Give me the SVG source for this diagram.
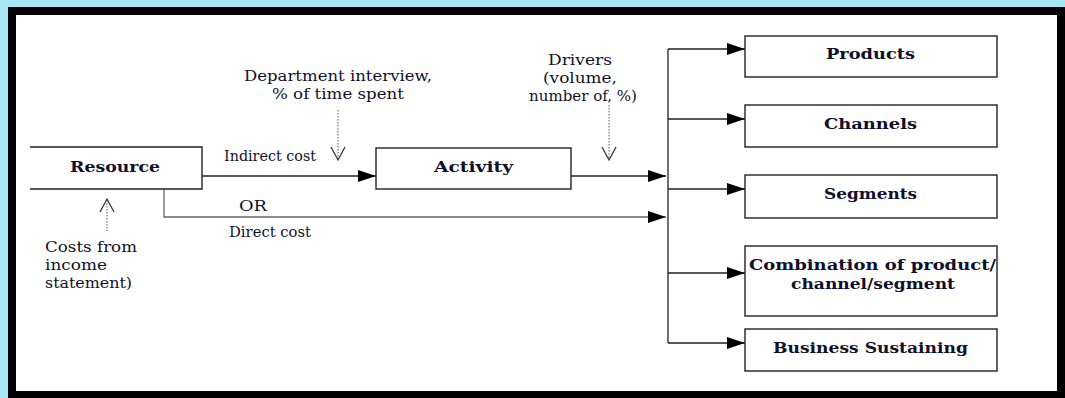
<svg xmlns="http://www.w3.org/2000/svg" width="1065" height="398" viewBox="0 0 1065 398">
  <style>
    .frame { fill: #ffffff; stroke: #000000; stroke-width: 8; }
    .box { fill: #ffffff; stroke: #222222; stroke-width: 1.4; }
    .line { fill: none; stroke: #222222; stroke-width: 1.3; }
    .gray { fill: none; stroke: #666666; stroke-width: 1.3; }
    .dot { fill: none; stroke: #777777; stroke-width: 1.2; stroke-dasharray: 1.5 1.5; }
    .vhead { fill: none; stroke: #333333; stroke-width: 1.3; }
    .title { font-family: "DejaVu Serif", "Liberation Serif", serif; font-weight: bold; font-size: 15.5px; fill: #10102a; text-anchor: middle; }
    .lbl { font-family: "DejaVu Serif", "Liberation Serif", serif; font-size: 15px; fill: #10102a; }
    .mid { text-anchor: middle; }
  </style>
  <defs>
    <marker id="arrow" viewBox="0 0 18 12" refX="18" refY="6" markerWidth="18" markerHeight="12" markerUnits="userSpaceOnUse" orient="auto">
      <path d="M0,0 L18,6 L0,12 Z" fill="#000000"/>
    </marker>
  </defs>

  <!-- backdrop and frame -->
  <rect x="0" y="0" width="1065" height="398" fill="#a6e6f7"/>
  <rect x="12" y="11" width="1049" height="384" class="frame"/>

  <!-- connectors -->
  <g id="connectors">
    <!-- Resource to Activity (indirect) -->
    <line x1="202" y1="176" x2="376" y2="176" class="line" marker-end="url(#arrow)"/>
    <!-- Resource direct path -->
    <polyline points="164,189 164,217 666,217" class="gray" marker-end="url(#arrow)"/>
    <!-- Activity to bus -->
    <line x1="571" y1="176" x2="666" y2="176" class="line" marker-end="url(#arrow)"/>
    <!-- bus -->
    <line x1="668" y1="49" x2="668" y2="343" class="line"/>
    <line x1="668" y1="49" x2="745" y2="49" class="line" marker-end="url(#arrow)"/>
    <line x1="668" y1="119" x2="745" y2="119" class="line" marker-end="url(#arrow)"/>
    <line x1="668" y1="189" x2="745" y2="189" class="line" marker-end="url(#arrow)"/>
    <line x1="668" y1="273" x2="745" y2="273" class="line" marker-end="url(#arrow)"/>
    <line x1="668" y1="343" x2="745" y2="343" class="line" marker-end="url(#arrow)"/>
    <!-- dotted input arrows -->
    <line x1="338" y1="110" x2="338" y2="159" class="dot"/>
    <polyline points="331,147 338,160 345,147" class="vhead"/>
    <line x1="609" y1="105" x2="609" y2="159" class="dot"/>
    <polyline points="602,147 609,160 616,147" class="vhead"/>
    <line x1="107" y1="200" x2="107" y2="231" class="dot"/>
    <polyline points="100,212 107,199 114,212" class="vhead"/>
  </g>

  <!-- nodes -->
  <g id="resource">
    <path d="M30,147 H202 V189 H30" class="box"/>
    <text x="115" y="172" class="title" textLength="90" lengthAdjust="spacingAndGlyphs">Resource</text>
  </g>
  <g id="activity">
    <rect x="376" y="148" width="195" height="41" class="box"/>
    <text x="473.5" y="172" class="title" textLength="79" lengthAdjust="spacingAndGlyphs">Activity</text>
  </g>
  <g id="products">
    <rect x="745" y="36" width="252" height="41" class="box"/>
    <text x="870.5" y="59" class="title" textLength="89" lengthAdjust="spacingAndGlyphs">Products</text>
  </g>
  <g id="channels">
    <rect x="745" y="105" width="252" height="42" class="box"/>
    <text x="870.5" y="129" class="title" textLength="93" lengthAdjust="spacingAndGlyphs">Channels</text>
  </g>
  <g id="segments">
    <rect x="745" y="175" width="252" height="43" class="box"/>
    <text x="870.5" y="199" class="title" textLength="93" lengthAdjust="spacingAndGlyphs">Segments</text>
  </g>
  <g id="combination">
    <rect x="745" y="246" width="252" height="70" class="box"/>
    <text x="872.5" y="270" class="title" textLength="247" lengthAdjust="spacingAndGlyphs">Combination of product/</text>
    <text x="873" y="289" class="title" textLength="164" lengthAdjust="spacingAndGlyphs">channel/segment</text>
  </g>
  <g id="business-sustaining">
    <rect x="745" y="329" width="252" height="42" class="box"/>
    <text x="870.5" y="353" class="title" textLength="195" lengthAdjust="spacingAndGlyphs">Business Sustaining</text>
  </g>

  <!-- labels -->
  <g id="labels">
    <text x="224" y="161" class="lbl" textLength="92" lengthAdjust="spacingAndGlyphs">Indirect cost</text>
    <text x="239" y="211" class="lbl" textLength="28" lengthAdjust="spacingAndGlyphs">OR</text>
    <text x="229" y="237" class="lbl" textLength="82" lengthAdjust="spacingAndGlyphs">Direct cost</text>
    <text x="338" y="81" class="lbl mid" textLength="188" lengthAdjust="spacingAndGlyphs">Department interview,</text>
    <text x="338" y="99" class="lbl mid" textLength="132" lengthAdjust="spacingAndGlyphs">% of time spent</text>
    <text x="580" y="65" class="lbl mid" textLength="64" lengthAdjust="spacingAndGlyphs">Drivers</text>
    <text x="580" y="83" class="lbl mid" textLength="74" lengthAdjust="spacingAndGlyphs">(volume,</text>
    <text x="583" y="101" class="lbl mid" textLength="108" lengthAdjust="spacingAndGlyphs">number of, %)</text>
    <text x="45" y="252" class="lbl" textLength="92" lengthAdjust="spacingAndGlyphs">Costs from</text>
    <text x="45" y="270" class="lbl" textLength="62" lengthAdjust="spacingAndGlyphs">income</text>
    <text x="45" y="288" class="lbl" textLength="87" lengthAdjust="spacingAndGlyphs">statement)</text>
  </g>
</svg>
